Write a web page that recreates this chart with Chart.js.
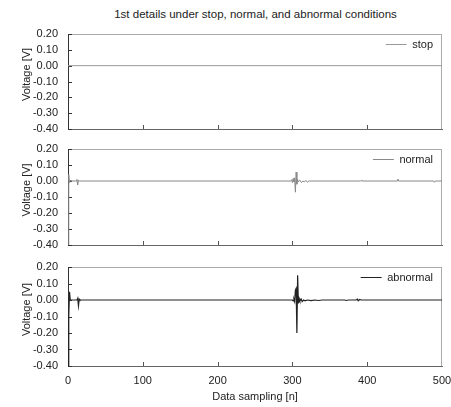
<!DOCTYPE html>
<html><head><meta charset="utf-8">
<script src="https://cdn.jsdelivr.net/npm/chart.js@4"></script>
<style>
html,body{margin:0;padding:0;background:#fff;}
#wrap{position:relative;width:451px;height:407px;overflow:hidden;}
#title{position:absolute;left:0;top:8px;width:511px;text-align:center;font:11.5px "Liberation Sans",Arial,sans-serif;line-height:13px;color:#222;}
canvas{position:absolute;left:0;}
</style></head><body>
<div id="wrap">
<div id="title">1st details under stop, normal, and abnormal conditions</div>
<canvas id="c1" width="451" height="140" style="top:0px"></canvas>
<canvas id="c2" width="451" height="118" style="top:140px"></canvas>
<canvas id="c3" width="451" height="149" style="top:258px"></canvas>
</div>
<script>
// ---- data ----
const xTicks = [0, 100, 200, 300, 400, 500];
const yTicks = [-0.4, -0.3, -0.2, -0.1, 0.0, 0.1, 0.2];

const stopN = [0, 500];
const stopV = [0, 0];

const normalN = [0, 1, 2, 3, 4, 11, 12, 13, 14, 15, 298, 299, 300, 301, 302, 303, 304, 305, 306, 307, 308, 310, 312, 314, 316, 318, 320, 322, 391, 392, 393, 440, 441, 442, 489, 490, 491, 500];
const normalV = [-0.45, 0.04, -0.01, 0.005, 0, 0, 0.01, -0.025, 0.005, 0, 0, 0.008, -0.01, 0.015, -0.005, 0.02, -0.07, 0.055, -0.02, 0.01, -0.005, 0.005, -0.01, 0, -0.006, 0.004, -0.008, 0, 0, 0.003, 0, 0, 0.012, 0, 0, -0.008, 0, 0];

const abnormalN = [0, 1, 2, 3, 4, 12, 13, 14, 15, 16, 300, 301, 302, 303, 304, 305, 306, 307, 308, 309, 310, 312, 313, 315, 317, 320, 325, 330, 335, 340, 370, 372, 375, 385, 387, 388, 390, 392, 500];
const abnormalV = [-0.5, -0.1, 0.05, 0.0, 0, 0, 0.01, -0.035, 0.005, 0, 0, -0.005, 0.005, -0.01, 0.06, 0.07, -0.20, 0.15, -0.02, 0.01, -0.005, 0.005, -0.01, 0, -0.005, 0, -0.004, 0, -0.003, 0, 0, -0.003, 0, 0, 0.005, -0.005, 0.003, 0, 0];

// ---- styling ----
const FONT = {family: '"Liberation Sans", Arial, sans-serif', size: 11};
const TXT = '#222';

const framePlugin = {
  id: 'frame',
  afterLayout(chart) {
    const ys = chart.scales.y;
    if (ys && !ys._titleShifted) {
      const orig = ys.drawTitle;
      ys.drawTitle = function () {
        const t = this.top;
        this.top = t - 14;
        orig.call(this);
        this.top = t;
      };
      ys._titleShifted = true;
    }
    const lg = chart.legend;
    if (!lg) return;
    const a = chart.chartArea;
    const ctx = chart.ctx;
    ctx.save();
    ctx.font = '11px "Liberation Sans", Arial, sans-serif';
    const tw = ctx.measureText(chart.data.datasets[0].label).width;
    ctx.restore();
    const pad = 10, box = 21;
    const itemW = box + 5.5 + tw;
    const left = a.right - 9 - itemW - pad;
    const top = a.top + 10.5 - 5.5 - pad;
    lg.left = left; lg.right = left + itemW + 2 * pad;
    lg.top = top; lg.bottom = a.bottom;
    lg.width = lg.right - lg.left; lg.height = lg.bottom - lg.top;
  },
  beforeDatasetsDraw(chart) {
    const {ctx, chartArea: a, scales: {x, y}} = chart;
    ctx.save();
    ctx.lineWidth = 1;
    ctx.strokeStyle = '#aaa';
    ctx.beginPath();
    ctx.moveTo(a.left, a.top + 0.5); ctx.lineTo(a.right, a.top + 0.5);
    ctx.moveTo(a.right - 0.5, a.top); ctx.lineTo(a.right - 0.5, a.bottom);
    ctx.stroke();
    ctx.strokeStyle = '#333';
    ctx.beginPath();
    y.ticks.forEach(t => {
      const py = Math.round(y.getPixelForValue(t.value)) + 0.5;
      ctx.moveTo(a.left, py); ctx.lineTo(a.left + 4, py);
    });
    ctx.stroke();
    ctx.strokeStyle = '#555';
    ctx.beginPath();
    x.ticks.forEach(t => {
      if (t.value <= 0 || t.value >= 500) return;
      const px = Math.round(x.getPixelForValue(t.value)) + 0.5;
      ctx.moveTo(px, a.bottom); ctx.lineTo(px, a.bottom - 4);
    });
    ctx.stroke();
    ctx.restore();
  }
};

function makePanel(id, ns, vs, label, color, width, padTop, xH, showX) {
  return new Chart(document.getElementById(id), {
    type: 'line',
    data: {datasets: [{
      label: label,
      data: ns.map((n, i) => ({x: n, y: vs[i]})),
      borderColor: color, backgroundColor: color, borderWidth: width,
      pointRadius: 0, tension: 0, fill: false
    }]},
    options: {
      responsive: false, animation: false, events: [],
      layout: {padding: {left: 0, right: 9, top: padTop, bottom: 0}},
      scales: {
        x: {
          type: 'linear', min: 0, max: 500,
          afterBuildTicks: s => { s.ticks = xTicks.map(v => ({value: v})); },
          afterFit: s => { s.height = xH; s.paddingLeft = 0; s.paddingRight = 0; },
          grid: {display: false, drawTicks: false},
          border: {display: true, color: '#666', width: 1},
          ticks: {display: showX, padding: 8, font: FONT, color: TXT, maxRotation: 0, autoSkip: false},
          title: {display: showX, text: 'Data sampling [n]', font: FONT, color: TXT, padding: {top: 0, bottom: 3}}
        },
        y: {
          min: -0.4, max: 0.2,
          afterBuildTicks: s => { s.ticks = yTicks.map(v => ({value: v})); },
          afterFit: s => { s.width = 68; s.paddingTop = 0; s.paddingBottom = 0; },
          grid: {display: false, drawTicks: false},
          border: {display: true, color: '#333', width: 1},
          ticks: {padding: 10, font: FONT, color: TXT, autoSkip: false, callback: v => v.toFixed(2)},
          title: {display: true, text: 'Voltage [V]', font: FONT, color: TXT, padding: {top: 20, bottom: 0}}
        }
      },
      plugins: {
        legend: {position: 'chartArea', align: 'start',
          labels: {usePointStyle: true, pointStyle: 'line', pointStyleWidth: 21, font: FONT, color: TXT, padding: 10}},
        tooltip: {enabled: false},
        title: {display: false}
      }
    },
    plugins: [framePlugin]
  });
}

makePanel('c1', stopN, stopV, 'stop', '#999', 1, 34, 11, false);
makePanel('c2', normalN, normalV, 'normal', '#888', 1, 9, 13, false);
makePanel('c3', abnormalN, abnormalV, 'abnormal', '#222', 1.2, 9, 41, true);
</script>
</body></html>
